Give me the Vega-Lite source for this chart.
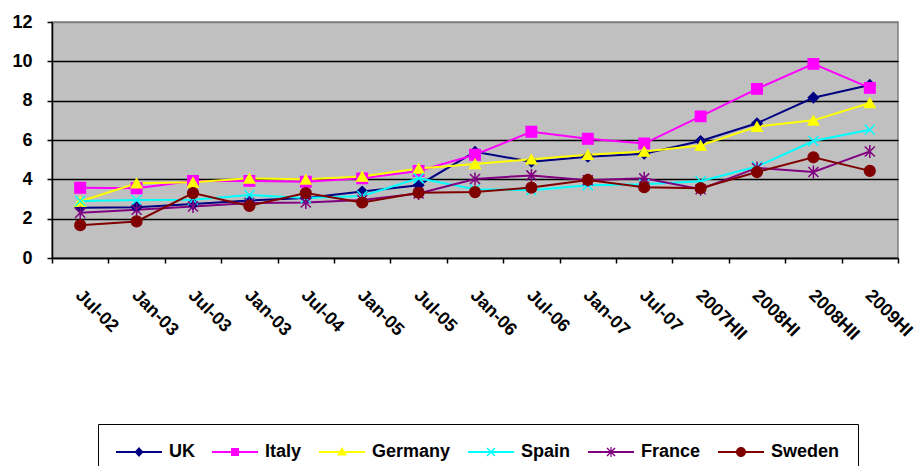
{
  "$schema": "https://vega.github.io/schema/vega-lite/v6.json",
  "autosize": {"type": "none"},
  "padding": {"left": 52, "top": 22, "right": 18, "bottom": 208},
  "width": 846,
  "height": 236,
  "background": "white",
  "config": {
    "font": "Liberation Sans",
    "view": {"fill": "#C0C0C0", "stroke": "#808080", "strokeWidth": 1.5},
    "axis": {
      "labelFont": "Liberation Sans",
      "labelFontWeight": "bold",
      "labelFontSize": 18,
      "labelColor": "black",
      "domainColor": "black",
      "domainWidth": 1.5,
      "tickColor": "black",
      "tickWidth": 1.5,
      "tickSize": 5,
      "title": null
    },
    "legend": {
      "labelFont": "Liberation Sans",
      "labelFontWeight": "bold",
      "labelFontSize": 18,
      "labelColor": "black"
    }
  },
  "data": {
    "values": [
      {"idx": 0, "period": "Jul-02", "country": "UK", "value": 2.55},
      {"idx": 1, "period": "Jan-03", "country": "UK", "value": 2.58},
      {"idx": 2, "period": "Jul-03", "country": "UK", "value": 2.75},
      {"idx": 3, "period": "Jan-03", "country": "UK", "value": 2.92},
      {"idx": 4, "period": "Jul-04", "country": "UK", "value": 3.05},
      {"idx": 5, "period": "Jan-05", "country": "UK", "value": 3.38},
      {"idx": 6, "period": "Jul-05", "country": "UK", "value": 3.7},
      {"idx": 7, "period": "Jan-06", "country": "UK", "value": 5.4},
      {"idx": 8, "period": "Jul-06", "country": "UK", "value": 4.9},
      {"idx": 9, "period": "Jan-07", "country": "UK", "value": 5.15},
      {"idx": 10, "period": "Jul-07", "country": "UK", "value": 5.3},
      {"idx": 11, "period": "2007HII", "country": "UK", "value": 5.95},
      {"idx": 12, "period": "2008HI", "country": "UK", "value": 6.85},
      {"idx": 13, "period": "2008HII", "country": "UK", "value": 8.15},
      {"idx": 14, "period": "2009HI", "country": "UK", "value": 8.8},
      {"idx": 0, "period": "Jul-02", "country": "Italy", "value": 3.57},
      {"idx": 1, "period": "Jan-03", "country": "Italy", "value": 3.55},
      {"idx": 2, "period": "Jul-03", "country": "Italy", "value": 3.92},
      {"idx": 3, "period": "Jan-03", "country": "Italy", "value": 3.92},
      {"idx": 4, "period": "Jul-04", "country": "Italy", "value": 3.88},
      {"idx": 5, "period": "Jan-05", "country": "Italy", "value": 4.05},
      {"idx": 6, "period": "Jul-05", "country": "Italy", "value": 4.42},
      {"idx": 7, "period": "Jan-06", "country": "Italy", "value": 5.25},
      {"idx": 8, "period": "Jul-06", "country": "Italy", "value": 6.42},
      {"idx": 9, "period": "Jan-07", "country": "Italy", "value": 6.06},
      {"idx": 10, "period": "Jul-07", "country": "Italy", "value": 5.82},
      {"idx": 11, "period": "2007HII", "country": "Italy", "value": 7.2},
      {"idx": 12, "period": "2008HI", "country": "Italy", "value": 8.6},
      {"idx": 13, "period": "2008HII", "country": "Italy", "value": 9.87},
      {"idx": 14, "period": "2009HI", "country": "Italy", "value": 8.65},
      {"idx": 0, "period": "Jul-02", "country": "Germany", "value": 2.87},
      {"idx": 1, "period": "Jan-03", "country": "Germany", "value": 3.8},
      {"idx": 2, "period": "Jul-03", "country": "Germany", "value": 3.85},
      {"idx": 3, "period": "Jan-03", "country": "Germany", "value": 4.05},
      {"idx": 4, "period": "Jul-04", "country": "Germany", "value": 4.0},
      {"idx": 5, "period": "Jan-05", "country": "Germany", "value": 4.15},
      {"idx": 6, "period": "Jul-05", "country": "Germany", "value": 4.55},
      {"idx": 7, "period": "Jan-06", "country": "Germany", "value": 4.78},
      {"idx": 8, "period": "Jul-06", "country": "Germany", "value": 5.02},
      {"idx": 9, "period": "Jan-07", "country": "Germany", "value": 5.25},
      {"idx": 10, "period": "Jul-07", "country": "Germany", "value": 5.42},
      {"idx": 11, "period": "2007HII", "country": "Germany", "value": 5.72},
      {"idx": 12, "period": "2008HI", "country": "Germany", "value": 6.68},
      {"idx": 13, "period": "2008HII", "country": "Germany", "value": 7.0},
      {"idx": 14, "period": "2009HI", "country": "Germany", "value": 7.88},
      {"idx": 0, "period": "Jul-02", "country": "Spain", "value": 2.9},
      {"idx": 1, "period": "Jan-03", "country": "Spain", "value": 2.95},
      {"idx": 2, "period": "Jul-03", "country": "Spain", "value": 2.96},
      {"idx": 3, "period": "Jan-03", "country": "Spain", "value": 3.2},
      {"idx": 4, "period": "Jul-04", "country": "Spain", "value": 3.05},
      {"idx": 5, "period": "Jan-05", "country": "Spain", "value": 3.15},
      {"idx": 6, "period": "Jul-05", "country": "Spain", "value": 4.05},
      {"idx": 7, "period": "Jan-06", "country": "Spain", "value": 3.5},
      {"idx": 8, "period": "Jul-06", "country": "Spain", "value": 3.45},
      {"idx": 9, "period": "Jan-07", "country": "Spain", "value": 3.7},
      {"idx": 10, "period": "Jul-07", "country": "Spain", "value": 3.75},
      {"idx": 11, "period": "2007HII", "country": "Spain", "value": 3.9},
      {"idx": 12, "period": "2008HI", "country": "Spain", "value": 4.65},
      {"idx": 13, "period": "2008HII", "country": "Spain", "value": 5.95},
      {"idx": 14, "period": "2009HI", "country": "Spain", "value": 6.52},
      {"idx": 0, "period": "Jul-02", "country": "France", "value": 2.3},
      {"idx": 1, "period": "Jan-03", "country": "France", "value": 2.45},
      {"idx": 2, "period": "Jul-03", "country": "France", "value": 2.62},
      {"idx": 3, "period": "Jan-03", "country": "France", "value": 2.8},
      {"idx": 4, "period": "Jul-04", "country": "France", "value": 2.82},
      {"idx": 5, "period": "Jan-05", "country": "France", "value": 2.95},
      {"idx": 6, "period": "Jul-05", "country": "France", "value": 3.28},
      {"idx": 7, "period": "Jan-06", "country": "France", "value": 4.02},
      {"idx": 8, "period": "Jul-06", "country": "France", "value": 4.2},
      {"idx": 9, "period": "Jan-07", "country": "France", "value": 3.95},
      {"idx": 10, "period": "Jul-07", "country": "France", "value": 4.05},
      {"idx": 11, "period": "2007HII", "country": "France", "value": 3.5},
      {"idx": 12, "period": "2008HI", "country": "France", "value": 4.58},
      {"idx": 13, "period": "2008HII", "country": "France", "value": 4.37},
      {"idx": 14, "period": "2009HI", "country": "France", "value": 5.42},
      {"idx": 0, "period": "Jul-02", "country": "Sweden", "value": 1.67},
      {"idx": 1, "period": "Jan-03", "country": "Sweden", "value": 1.86},
      {"idx": 2, "period": "Jul-03", "country": "Sweden", "value": 3.3},
      {"idx": 3, "period": "Jan-03", "country": "Sweden", "value": 2.65},
      {"idx": 4, "period": "Jul-04", "country": "Sweden", "value": 3.3},
      {"idx": 5, "period": "Jan-05", "country": "Sweden", "value": 2.82},
      {"idx": 6, "period": "Jul-05", "country": "Sweden", "value": 3.32},
      {"idx": 7, "period": "Jan-06", "country": "Sweden", "value": 3.35},
      {"idx": 8, "period": "Jul-06", "country": "Sweden", "value": 3.58},
      {"idx": 9, "period": "Jan-07", "country": "Sweden", "value": 3.97},
      {"idx": 10, "period": "Jul-07", "country": "Sweden", "value": 3.6},
      {"idx": 11, "period": "2007HII", "country": "Sweden", "value": 3.55},
      {"idx": 12, "period": "2008HI", "country": "Sweden", "value": 4.37},
      {"idx": 13, "period": "2008HII", "country": "Sweden", "value": 5.12},
      {"idx": 14, "period": "2009HI", "country": "Sweden", "value": 4.43}
    ]
  },
  "encoding": {
    "x": {
      "field": "idx",
      "type": "ordinal",
      "scale": {"type": "band", "paddingInner": 0, "paddingOuter": 0},
      "axis": {
        "tickBand": "extent",
        "labelAngle": 45,
        "labelAlign": "left",
        "labelBaseline": "top",
        "labelPadding": 23,
        "labelOffset": 4,
        "labelBound": false,
        "labelOverlap": false,
        "labelExpr": "['Jul-02','Jan-03','Jul-03','Jan-03','Jul-04','Jan-05','Jul-05','Jan-06','Jul-06','Jan-07','Jul-07','2007HII','2008HI','2008HII','2009HI'][datum.value]",
        "grid": false
      }
    },
    "y": {
      "field": "value",
      "type": "quantitative",
      "scale": {"domain": [0, 12], "nice": false},
      "axis": {
        "values": [0, 2, 4, 6, 8, 10, 12],
        "labelPadding": 15,
        "grid": true,
        "gridColor": {"condition": {"test": "datum.value === 12", "value": "#808080"}, "value": "black"},
        "gridWidth": 1.5,
        "gridOpacity": 1
      }
    }
  },
  "layer": [
    {
      "mark": {"type": "line", "strokeWidth": 2},
      "encoding": {
        "stroke": {
          "field": "country",
          "type": "nominal",
          "scale": {
            "domain": ["UK", "Italy", "Germany", "Spain", "France", "Sweden", "other"],
            "range": ["#000080", "#FF00FF", "#FFFF00", "#00FFFF", "#800080", "#800000", "#000000"]
          },
          "legend": null
        }
      }
    },
    {
      "transform": [{"filter": "datum.country === 'UK'"}],
      "mark": {"type": "point", "filled": true, "shape": "diamond", "size": 110, "strokeWidth": 1.2, "opacity": 1},
      "encoding": {
        "fill": {"field": "country", "type": "nominal", "scale": {"domain": ["UK", "Italy", "Germany", "Spain", "France", "Sweden", "other"], "range": ["#000080", "#FF00FF", "#FFFF00", "#00FFFF", "#800080", "#800000", "#000000"]}, "legend": null},
        "stroke": {"field": "country", "type": "nominal", "legend": null}
      }
    },
    {
      "transform": [{"filter": "datum.country === 'Italy'"}],
      "mark": {"type": "point", "filled": true, "shape": "square", "size": 115, "strokeWidth": 1.2, "opacity": 1},
      "encoding": {
        "fill": {"field": "country", "type": "nominal", "legend": null},
        "stroke": {"field": "country", "type": "nominal", "legend": null}
      }
    },
    {
      "transform": [{"filter": "datum.country === 'Germany'"}],
      "mark": {"type": "point", "filled": true, "shape": "triangle-up", "size": 120, "strokeWidth": 1.2, "opacity": 1},
      "encoding": {
        "fill": {"field": "country", "type": "nominal", "legend": null},
        "stroke": {"field": "country", "type": "nominal", "legend": null}
      }
    },
    {
      "transform": [{"filter": "datum.country === 'Spain'"}],
      "mark": {"type": "point", "filled": true, "shape": "M-1,-1L1,1M-1,1L1,-1", "size": 100, "strokeWidth": 1.5, "opacity": 1},
      "encoding": {
        "fill": {"field": "country", "type": "nominal", "legend": null},
        "stroke": {"field": "country", "type": "nominal", "legend": null}
      }
    },
    {
      "transform": [{"filter": "datum.country === 'France'"}],
      "mark": {"type": "point", "filled": true, "shape": "M-1,-1L1,1M-1,1L1,-1M0,-1.3L0,1.3", "size": 100, "strokeWidth": 1.5, "opacity": 1},
      "encoding": {
        "fill": {"field": "country", "type": "nominal", "legend": null},
        "stroke": {"field": "country", "type": "nominal", "legend": null}
      }
    },
    {
      "transform": [{"filter": "datum.country === 'Sweden'"}],
      "mark": {"type": "point", "filled": true, "shape": "circle", "size": 120, "strokeWidth": 1.2, "opacity": 1},
      "encoding": {
        "fill": {"field": "country", "type": "nominal", "legend": null},
        "stroke": {"field": "country", "type": "nominal", "legend": null}
      }
    },
    {
      "transform": [{"filter": "datum.idx < 0"}],
      "mark": {"type": "point", "filled": true, "size": 110, "opacity": 1},
      "encoding": {
        "color": {
          "field": "country",
          "type": "nominal",
          "scale": {
            "domain": ["UK", "Italy", "Germany", "Spain", "France", "Sweden"],
            "range": ["#000080", "#FF00FF", "#FFFF00", "#00FFFF", "#800080", "#800000"]
          },
          "legend": {
            "title": null,
            "orient": "none",
            "legendX": 46,
            "legendY": 402,
            "direction": "horizontal",
            "columns": 6,
            "columnPadding": 17,
            "padding": 18,
            "strokeColor": "black",
            "fillColor": "white",
            "symbolSize": 400,
            "symbolStrokeWidth": 0,
            "symbolOpacity": 1,
            "labelOffset": 33
          }
        },
        "shape": {
          "field": "country",
          "type": "nominal",
          "scale": {
            "domain": ["UK", "Italy", "Germany", "Spain", "France", "Sweden"],
            "range": [
              "M-1,-0.1L3.6,-0.1L3.6,0.1L-1,0.1ZM1.3,-0.5L1.75,0L1.3,0.5L0.85,0Z",
              "M-1,-0.1L3.6,-0.1L3.6,0.1L-1,0.1ZM0.9,-0.4L1.7,-0.4L1.7,0.4L0.9,0.4Z",
              "M-1,-0.1L3.6,-0.1L3.6,0.1L-1,0.1ZM1.3,-0.5L1.8,0.35L0.8,0.35Z",
              "M-1,-0.1L3.6,-0.1L3.6,0.1L-1,0.1ZM0.95,-0.45L1.75,0.35L1.65,0.45L0.85,-0.35ZM1.65,-0.45L1.75,-0.35L0.95,0.45L0.85,0.35Z",
              "M-1,-0.1L3.6,-0.1L3.6,0.1L-1,0.1ZM0.95,-0.45L1.75,0.35L1.65,0.45L0.85,-0.35ZM1.65,-0.45L1.75,-0.35L0.95,0.45L0.85,0.35ZM1.24,-0.5L1.36,-0.5L1.36,0.5L1.24,0.5Z",
              "M-1,-0.1L3.6,-0.1L3.6,0.1L-1,0.1ZM0.8,0A0.5,0.5,0,1,1,1.8,0A0.5,0.5,0,1,1,0.8,0Z"
            ]
          },
          "legend": {
            "title": null,
            "orient": "none",
            "legendX": 46,
            "legendY": 402,
            "direction": "horizontal",
            "columns": 6,
            "columnPadding": 17,
            "padding": 18,
            "strokeColor": "black",
            "fillColor": "white",
            "symbolSize": 400,
            "symbolStrokeWidth": 0,
            "symbolOpacity": 1,
            "labelOffset": 33
          }
        }
      }
    }
  ]
}
